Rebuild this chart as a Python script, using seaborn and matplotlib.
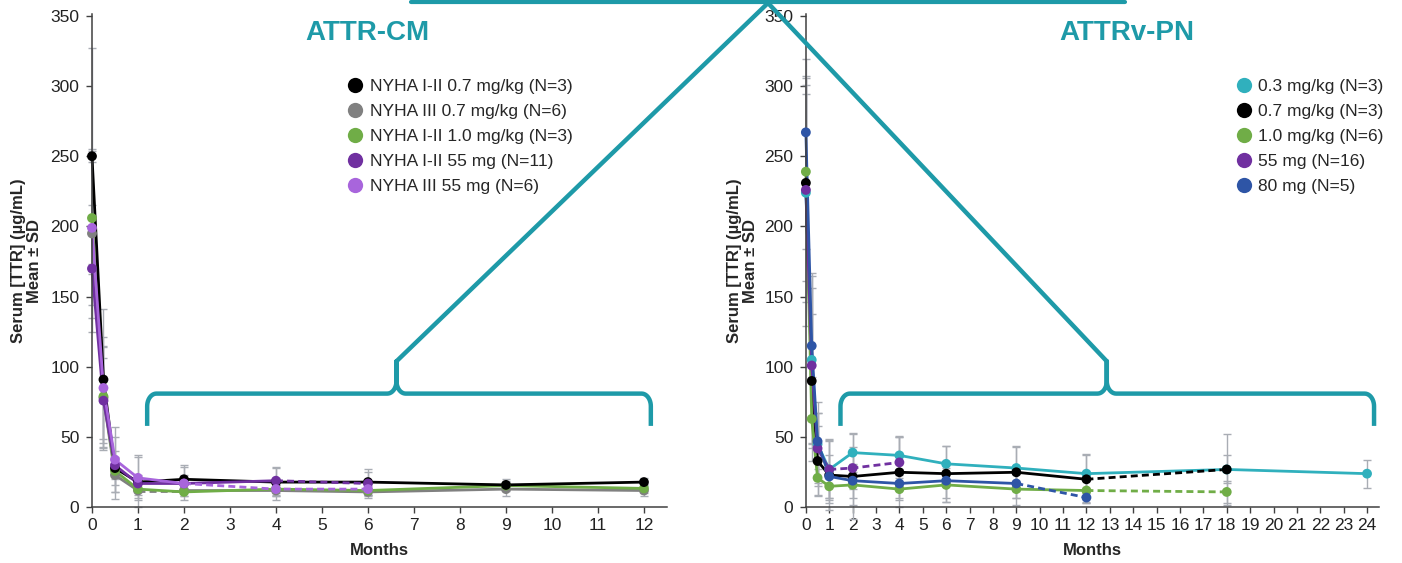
import numpy as np
import matplotlib
matplotlib.use("Agg")
import matplotlib.pyplot as plt
from matplotlib.lines import Line2D
import seaborn as sns

sns.set_style("ticks")
plt.rcParams['font.family'] = ['Liberation Sans', 'DejaVu Sans']

nan = np.nan

# ATTR-CM panel
CM_MONTHS = [0, 0.25, 0.5, 1, 2, 4, 6, 9, 12]
CM_LABELS = ['NYHA I-II 0.7 mg/kg (N=3)', 'NYHA III 0.7 mg/kg (N=6)',
             'NYHA I-II 1.0 mg/kg (N=3)', 'NYHA I-II 55 mg (N=11)',
             'NYHA III 55 mg (N=6)']
cm_black = [250, 91, 28, 18, 20, 18, 18, 16, 18]
cm_gray = [195, 78, 23, 12, 12, 12, 11, 13, 12]
cm_green = [206, 79, 26, 13, 11, 13, 12, 15.5, 13.5]
cm_dpurple = [170, 76, 30, 17, 17, 19, 17, nan, nan]
cm_lpurple = [199, 85, 34, 21, 17, 13, 13, nan, nan]
cm_black_sd = [77, 50, 22, 18, 10, 10, 9, 4, 3]
cm_gray_sd = [60, 36, 12, 5, 4, 4, 3, 5, 4]
cm_green_sd = [40, 36, 10, 4, 3, 3, 3, 3, 3]
cm_dpurple_sd = [45, 30, 10, 6, 6, 10, 8, nan, nan]
cm_lpurple_sd = [55, 36, 23, 16, 12, 8, 6, nan, nan]
# index of segments (point i -> i+1) drawn dashed
cm_dashed = [[], [3], [], [5], [4, 5]]

# ATTRv-PN panel
PN_MONTHS = [0, 0.25, 0.5, 1, 2, 4, 6, 9, 12, 18, 24]
PN_LABELS = ['0.3 mg/kg (N=3)', '0.7 mg/kg (N=3)', '1.0 mg/kg (N=6)',
             '55 mg (N=16)', '80 mg (N=5)']
pn_teal = [224, 105, 45, 27, 39, 37, 31, 28, 24, 27, 24]
pn_black = [231, 90, 33, 23, 22, 25, 24, 25, 20, 27, nan]
pn_green = [239, 63, 21, 15, 16, 13, 16, 13, 12, 11, nan]
pn_purple = [226, 101, 42, 27, 28, 32, nan, nan, nan, nan, nan]
pn_blue = [267, 115, 47, 22, 19, 17, 19, 17, 7, nan, nan]
pn_teal_sd = [95, 60, 30, 22, 14, 14, 13, 16, 14, 25, 10]
pn_black_sd = [70, 48, 25, 25, 30, 25, 20, 18, 17, 10, nan]
pn_green_sd = [55, 30, 12, 12, 14, 8, 12, 11, 8, 8, nan]
pn_purple_sd = [80, 55, 25, 20, 15, 18, nan, nan, nan, nan, nan]
pn_blue_sd = [40, 52, 20, 15, 12, 10, 12, 10, 4, nan, nan]
pn_dashed = [[], [8], [8], [3, 4], [7]]

CM_COLORS = ['#000000', '#808080', '#70ad47', '#7030a0', '#a865dc']
PN_COLORS = ['#30b0bd', '#000000', '#70ad47', '#7030a0', '#2e55a6']
TEAL = '#1e9aa8'
ERR = '#a9adb4'
AXC = '#404040'


def draw_series(ax, months, vals, sd, color, dashed):
    x = np.asarray(months, float)
    y = np.asarray(vals, float)
    e = np.asarray(sd, float)
    ok = ~np.isnan(y)
    eb = ax.errorbar(x[ok], y[ok], yerr=e[ok], fmt='none', ecolor=ERR,
                     elinewidth=1, capsize=3, capthick=1, zorder=1)
    for art in eb.get_children():
        art.set_clip_on(False)
    runs = []
    for i in range(len(x) - 1):
        if np.isnan(y[i]) or np.isnan(y[i + 1]):
            continue
        style = (0, (2.5, 1.5)) if i in dashed else '-'
        if runs and runs[-1][0] == style and runs[-1][1][-1] == i:
            runs[-1][1].append(i + 1)
        else:
            runs.append((style, [i, i + 1]))
    for style, idx in runs:
        sns.lineplot(x=x[idx], y=y[idx], color=color, linestyle=style,
                     linewidth=2.0, ax=ax, clip_on=False, zorder=2)
    sns.scatterplot(x=x[ok], y=y[ok], color=color, s=50, edgecolor='none',
                    ax=ax, clip_on=False, zorder=3)


def style_axes(ax, xmax, ticks):
    ax.set_xlim(0, xmax)
    ax.set_ylim(0, 351)
    ax.set_xticks(ticks)
    ax.set_yticks(range(0, 351, 50))
    sns.despine(ax=ax)
    for s in ['left', 'bottom']:
        ax.spines[s].set_color(AXC)
        ax.spines[s].set_linewidth(1.1)
    ax.tick_params(axis='both', labelsize=12.5, length=4, width=1,
                   color=AXC, labelcolor='#222222')
    ax.tick_params(axis='y', pad=5)
    ax.set_xlabel('Months', fontsize=12, fontweight='bold', labelpad=7)
    ax.set_ylabel('Serum [TTR] (µg/mL)\nMean ± SD', fontsize=12,
                  fontweight='bold', linespacing=1.05)


def add_legend(ax, labels, colors, x_anchor):
    handles = [Line2D([], [], marker='o', ls='', color=c, markersize=11,
                      markeredgewidth=0) for c in colors]
    ax.legend(handles, labels, loc='upper left', bbox_to_anchor=(x_anchor, 0.884),
              frameon=False, fontsize=12.5, handlelength=0.8,
              handletextpad=0.45, labelspacing=0.57, borderaxespad=0)


def quarter(cx, cy, rx, ry, a0, a1, n=12):
    t = np.linspace(a0, a1, n)
    return list(cx + rx * np.cos(t)), list(cy + ry * np.sin(t))


def add_bracket(ax, x0, xm, x1, rx, yb=58, yh=81, yp=104, ry=9):
    bx, by = [x0], [yb]
    qx, qy = quarter(x0 + rx, yh - ry, rx, ry, np.pi, np.pi / 2)
    bx += qx; by += qy
    qx, qy = quarter(xm - rx, yh + ry, rx, ry, -np.pi / 2, 0)
    bx += qx; by += qy
    bx += [xm]; by += [yp]
    qx, qy = quarter(xm + rx, yh + ry, rx, ry, np.pi, 3 * np.pi / 2)
    bx += qx; by += qy
    qx, qy = quarter(x1 - rx, yh - ry, rx, ry, np.pi / 2, 0)
    bx += qx; by += qy
    bx += [x1]; by += [yb]
    ax.plot(bx, by, color=TEAL, lw=3.2, clip_on=False, zorder=5,
            solid_joinstyle='round', solid_capstyle='butt')


fig = plt.figure(figsize=(14.02, 5.63), dpi=100)
ax1 = fig.add_axes([0.0656, 0.0988, 0.4101, 0.8757])
ax2 = fig.add_axes([0.5748, 0.0988, 0.4086, 0.8757])

cm_vals = [cm_black, cm_gray, cm_green, cm_dpurple, cm_lpurple]
cm_sds = [cm_black_sd, cm_gray_sd, cm_green_sd, cm_dpurple_sd, cm_lpurple_sd]
order = [1, 2, 0, 3, 4]
for i in order:
    draw_series(ax1, CM_MONTHS, cm_vals[i], cm_sds[i], CM_COLORS[i], cm_dashed[i])

pn_vals = [pn_teal, pn_black, pn_green, pn_purple, pn_blue]
pn_sds = [pn_teal_sd, pn_black_sd, pn_green_sd, pn_purple_sd, pn_blue_sd]
for i in range(5):
    draw_series(ax2, PN_MONTHS, pn_vals[i], pn_sds[i], PN_COLORS[i], pn_dashed[i])

style_axes(ax1, 12.5, range(0, 13))
style_axes(ax2, 24.5, range(0, 25))
ax1.yaxis.set_label_coords(-0.087, 0.5)
ax2.yaxis.set_label_coords(-0.084, 0.5)

add_legend(ax1, CM_LABELS, CM_COLORS, 0.433)
add_legend(ax2, PN_LABELS, PN_COLORS, 0.740)

add_bracket(ax1, 1.2, 6.62, 12.15, rx=0.2)
add_bracket(ax2, 1.48, 12.87, 24.3, rx=0.4)

fig.text(367 / 1402, 1 - 33 / 563, 'ATTR-CM', color=TEAL, fontsize=20,
         fontweight='bold', ha='center', va='center')
fig.text(1127 / 1402, 1 - 33 / 563, 'ATTRv-PN', color=TEAL, fontsize=20,
         fontweight='bold', ha='center', va='center')

# zigzag connecting both bracket peaks through the top
fig.canvas.draw()
inv = fig.transFigure.inverted()
p1 = inv.transform(ax1.transData.transform((6.62, 104)))
p2 = inv.transform(ax2.transData.transform((12.87, 104)))
apex = (768 / 1402, 1 - 3 / 563)
fig.add_artist(Line2D([p1[0], apex[0], p2[0]], [p1[1], apex[1], p2[1]],
                      transform=fig.transFigure, color=TEAL, lw=3.2,
                      solid_joinstyle='miter', zorder=5))
fig.add_artist(Line2D([411 / 1402, 1125 / 1402], [1 - 1.5 / 563, 1 - 1.5 / 563],
                      transform=fig.transFigure, color=TEAL, lw=3, zorder=5))

fig.savefig('out.png', dpi=100)
